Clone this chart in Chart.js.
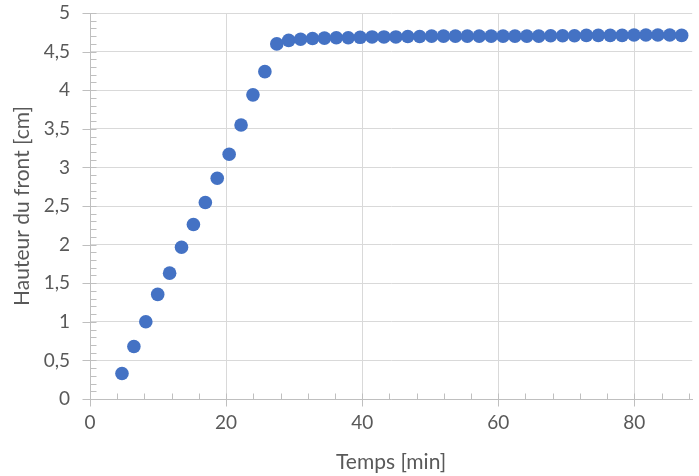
<!DOCTYPE html>
<html>
<head>
<meta charset="utf-8">
<script src="https://cdn.jsdelivr.net/npm/chart.js@4.4.1/dist/chart.umd.min.js"></script>
<style>
  html, body { margin: 0; padding: 0; background: #fff; overflow: hidden; }
  #wrap { width: 699px; height: 476px; position: relative; }
</style>
</head>
<body>
<div id="wrap"><canvas id="front"></canvas></div>
<script>
// temps en minutes, hauteur du front en cm
var temps = [4.7, 6.45, 8.2, 9.95, 11.7, 13.45, 15.2, 16.95, 18.7, 20.45,
             22.2, 23.95, 25.7, 27.45, 29.2, 30.95, 32.7, 34.45, 36.2, 37.95,
             39.7, 41.45, 43.2, 44.95, 46.7, 48.45, 50.2, 51.95, 53.7, 55.45,
             57.2, 58.95, 60.7, 62.45, 64.2, 65.95, 67.7, 69.45, 71.2, 72.95,
             74.7, 76.45, 78.2, 79.95, 81.7, 83.45, 85.2, 86.95];
var hauteur = [0.33, 0.68, 1.0, 1.355, 1.63, 1.965, 2.26, 2.545, 2.86, 3.17,
               3.55, 3.94, 4.24, 4.6, 4.645, 4.66, 4.67, 4.675, 4.68, 4.68,
               4.685, 4.69, 4.69, 4.69, 4.695, 4.695, 4.7, 4.7, 4.7, 4.7,
               4.7, 4.7, 4.7, 4.7, 4.7, 4.7, 4.705, 4.705, 4.705, 4.71,
               4.71, 4.71, 4.71, 4.715, 4.715, 4.715, 4.715, 4.71];
var xTickLabels = ['0', '20', '40', '60', '80'];
var yTickLabels = ['0', '0,5', '1', '1,5', '2', '2,5', '3', '3,5', '4', '4,5', '5'];

var points = temps.map(function(t, i) { return { x: t, y: hauteur[i] }; });

var axisColor = '#bfbfbf';
var gridColor = '#d9d9d9';
var textColor = '#595959';
var fontFamily = 'Lato, "Noto Sans", sans-serif';

// petites graduations (mineures a l'interieur, majeures traversantes)
var axisMarks = {
    id: 'axisMarks',
    beforeDatasetsDraw: function(chart) {
        var ctx = chart.ctx;
        var xs = chart.scales.x, ys = chart.scales.y;
        var ax = Math.round(xs.left) + 0.5;
        var ay = Math.round(ys.bottom) + 0.5;
        ctx.save();
        ctx.strokeStyle = axisColor;
        ctx.lineWidth = 1;
        ctx.beginPath();
        for (var k = 0; k <= 50; k++) {
            var py = Math.round(ys.getPixelForValue(k / 10)) + 0.5;
            ctx.moveTo(k % 5 === 0 ? ax - 8 : ax, py);
            ctx.lineTo(ax + 6, py);
        }
        for (var j = 0; j * 4 <= xs.max; j++) {
            var px = Math.round(xs.getPixelForValue(j * 4)) + 0.5;
            ctx.moveTo(px, ay - 6);
            ctx.lineTo(px, j % 5 === 0 ? ay + 7 : ay);
        }
        ctx.stroke();
        ctx.restore();
    }
};

var ctx = document.getElementById('front').getContext('2d');
var chart = new Chart(ctx, {
    type: 'scatter',
    data: {
        datasets: [{
            data: points,
            backgroundColor: '#4472c4',
            borderWidth: 0,
            pointRadius: 6.8,
            pointHoverRadius: 6.8
        }]
    },
    options: {
        responsive: true,
        maintainAspectRatio: false,
        animation: false,
        layout: { padding: { top: 13, left: 0, right: 0, bottom: 0 } },
        plugins: {
            legend: { display: false },
            tooltip: { enabled: false }
        },
        scales: {
            x: {
                type: 'linear',
                min: 0,
                max: 88.5,
                afterFit: function(scale) {
                    scale.height = 77;
                    scale.paddingLeft = 0;
                    scale.paddingRight = 0;
                },
                grid: { color: gridColor, drawTicks: false },
                border: { color: axisColor },
                ticks: {
                    stepSize: 20,
                    includeBounds: false,
                    padding: 12,
                    color: textColor,
                    font: { family: fontFamily, size: 19 },
                    callback: function(v, i) { return xTickLabels[i]; }
                },
                title: {
                    display: true,
                    text: 'Temps [min]',
                    color: textColor,
                    font: { family: fontFamily, size: 21 },
                    padding: { top: 0, bottom: 1.5 }
                }
            },
            y: {
                min: 0,
                max: 5,
                afterFit: function(scale) {
                    scale.width = 90;
                    scale.paddingTop = 0;
                    scale.paddingBottom = 0;
                },
                grid: { color: gridColor, drawTicks: false },
                border: { color: axisColor },
                ticks: {
                    stepSize: 0.5,
                    padding: 20,
                    color: textColor,
                    font: { family: fontFamily, size: 19 },
                    callback: function(v, i) { return yTickLabels[i]; }
                },
                title: {
                    display: true,
                    text: 'Hauteur du front [cm]',
                    color: textColor,
                    font: { family: fontFamily, size: 21 },
                    padding: { top: 10, bottom: 0 }
                }
            }
        }
    },
    plugins: [axisMarks]
});
</script>
</body>
</html>
